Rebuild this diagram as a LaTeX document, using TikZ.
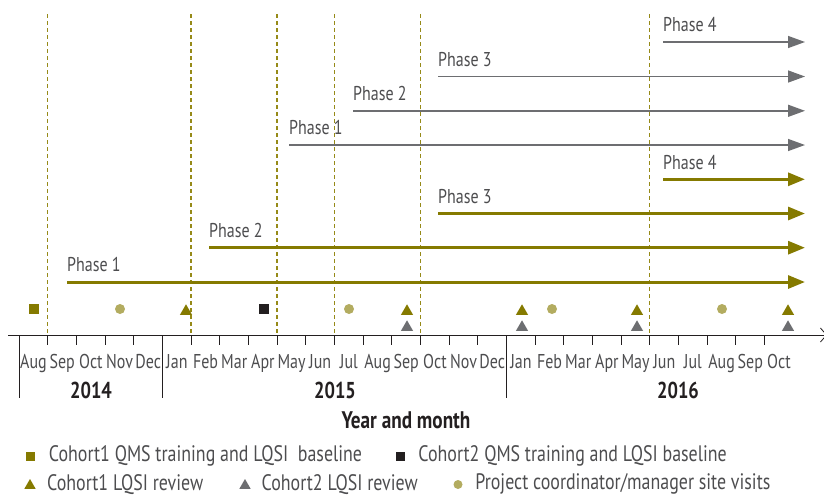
\documentclass[tikz,border=0pt]{standalone}
\usepackage{fontspec}
\setmainfont[FakeStretch=0.8]{PT Sans}
\usepackage{xcolor}
\usepackage{tikz}
\usetikzlibrary{arrows.meta, matrix, positioning, shapes.geometric}
\definecolor{oliveline}{HTML}{857A00}
\definecolor{guideol}{HTML}{968A18}
\definecolor{khaki}{HTML}{B3AC60}
\definecolor{slate}{HTML}{6D6E71}
\definecolor{ink}{HTML}{231F20}
\definecolor{txt}{HTML}{4D4D4F}
\tikzstyle{month}=[text width=28.67pt, align=center, inner sep=0pt, font=\fontsize{20}{24}\selectfont, text=txt, text height=14pt, text depth=4pt]
\tikzstyle{year}=[font=\fontsize{23}{26}\selectfont\bfseries, text=ink, inner sep=0pt]
\tikzstyle{phase}=[font=\fontsize{20}{24}\selectfont, text=txt, inner sep=0pt, text height=14pt, text depth=4pt]
\tikzstyle{legend}=[phase, font=\fontsize{22.4}{26}\selectfont, text height=15pt, text depth=5pt]
\tikzstyle{guide}=[draw=guideol, line width=1.5pt, dash pattern=on 4pt off 3pt]
\tikzstyle{tick}=[draw=ink, line width=0.8pt]
\tikzstyle{greyarrow}=[draw=slate, line width=1.4pt, -{Triangle[length=17pt, width=12pt]}]
\tikzstyle{olivearrow}=[draw=oliveline, line width=3pt, -{Triangle[length=17pt, width=13pt]}]
\tikzstyle{tri}=[regular polygon, regular polygon sides=3, inner sep=0pt, minimum size=14pt, fill=oliveline]
\tikzstyle{tritwo}=[tri, fill=slate]
\tikzstyle{sq}=[rectangle, minimum size=10pt, inner sep=0pt, fill=oliveline]
\tikzstyle{sqtwo}=[sq, fill=ink]
\tikzstyle{visit}=[circle, minimum size=10pt, inner sep=0pt, fill=khaki]

\begin{document}
\begin{tikzpicture}[x=1pt, y=-1pt]
\useasboundingbox (0,0) rectangle (824,496);

% Months
\matrix (months) [
    ampersand replacement=\&,
    matrix of nodes,
    nodes={month},
    column sep=0pt,
    inner sep=0pt,
    anchor=west
] at (19,363)
{
    Aug \& Sep \& Oct \& Nov \& Dec \& Jan \& Feb \& Mar \& Apr \& May \& Jun \& Jul \& Aug \& Sep \& Oct \& Nov \& Dec \& Jan \& Feb \& Mar \& Apr \& May \& Jun \& Jul \& Aug \& Sep \& Oct \\
};

% Axis and ticks
\coordinate (axl) at (8,335);
\coordinate (axr) at (827,335);
\coordinate (top) at (0,14);
\draw[tick, -{Straight Barb[length=6pt, width=14pt]}] (axl) -- (axr);
\foreach \c in {2,...,27} \draw[tick] (months-1-\c.west |- axl) -- ++(0,10);
\foreach \c in {1,6,18} \draw[tick] (months-1-\c.west |- axl) -- ++(0,63);

% Phase borders
\foreach \c in {2,7,10,12,15,23} \draw[guide] (months-1-\c.west |- top) -- (months-1-\c.west |- axl);

% Years
\node[year, anchor=base] (y2014) at (91,398) {2014};
\node[year, anchor=base] (y2015) at (335,398) {2015};
\node[year, anchor=base] (y2016) at (678,398) {2016};
\node[year, font=\fontsize{24}{28}\selectfont\bfseries, anchor=base] (xlabel) at (406,428) {Year and month};

% Phases, cohort 2
\coordinate (tipx) at (805,0);
\coordinate (gs4) at (663,42);
\coordinate (gs3) at (438,76.5);
\coordinate (gs2) at (353,110.8);
\coordinate (gs1) at (289,145);
\node[phase, above right=6pt and 0pt of gs4] (gp4) {Phase 4};
\node[phase, above right=6pt and 0pt of gs3] (gp3) {Phase 3};
\node[phase, above right=6pt and 0pt of gs2] (gp2) {Phase 2};
\node[phase, above right=6pt and 0pt of gs1] (gp1) {Phase 1};
\draw[greyarrow] (gs4) -- (gs4 -| tipx);
\draw[greyarrow] (gs3) -- (gs3 -| tipx);
\draw[greyarrow] (gs2) -- (gs2 -| tipx);
\draw[greyarrow] (gs1) -- (gs1 -| tipx);

% Phases, cohort 1
\coordinate (os4) at (663,179.3);
\coordinate (os3) at (438,213.5);
\coordinate (os2) at (209,247.7);
\coordinate (os1) at (67,282);
\node[phase, above right=6pt and 0pt of os4] (op4) {Phase 4};
\node[phase, above right=6pt and 0pt of os3] (op3) {Phase 3};
\node[phase, above right=6pt and 0pt of os2] (op2) {Phase 2};
\node[phase, above right=6pt and 0pt of os1] (op1) {Phase 1};
\draw[olivearrow] (os4) -- (os4 -| tipx);
\draw[olivearrow] (os3) -- (os3 -| tipx);
\draw[olivearrow] (os2) -- (os2 -| tipx);
\draw[olivearrow] (os1) -- (os1 -| tipx);

% Events
\node[sq] (base1) at (34,309) {};
\node[visit] (v1) at (120,309) {};
\node[tri, anchor=south] (r1) at (186,315) {};
\node[sqtwo] (base2) at (264,309) {};
\node[visit] (v2) at (349,309) {};
\node[tri, anchor=south] (r2) at (407,315) {};
\node[tritwo, anchor=south] (s2) at (407,331) {};
\node[tri, anchor=south] (r3) at (522,315) {};
\node[tritwo, anchor=south] (s3) at (522,331) {};
\node[visit] (v3) at (552,309) {};
\node[tri, anchor=south] (r4) at (637,315) {};
\node[tritwo, anchor=south] (s4) at (637,331) {};
\node[visit] (v4) at (722,309) {};
\node[tri, anchor=south] (r5) at (788,315) {};
\node[tritwo, anchor=south] (s5) at (788,331) {};

% Legend
\node[sq, minimum size=9pt] (k1) at (30,456) {};
\node[legend, right=14pt of k1] (k1t) {Cohort1 QMS training and LQSI\ \ baseline};
\node[sqtwo, minimum size=9pt] (k2) at (400,456) {};
\node[legend, right=13.5pt of k2] (k2t) {Cohort2 QMS training and LQSI baseline};
\node[tri, minimum size=13pt] (k3) at (30,485.5) {};
\node[legend, right=13pt of k3] (k3t) {Cohort1 LQSI review};
\node[tritwo, minimum size=13pt] (k4) at (245,485.5) {};
\node[legend, right=12.5pt of k4] (k4t) {Cohort2 LQSI review};
\node[visit, minimum size=9pt] (k5) at (458,484.5) {};
\node[legend, right=12.5pt of k5] (k5t) {Project coordinator/manager site visits};

\end{tikzpicture}
\end{document}
